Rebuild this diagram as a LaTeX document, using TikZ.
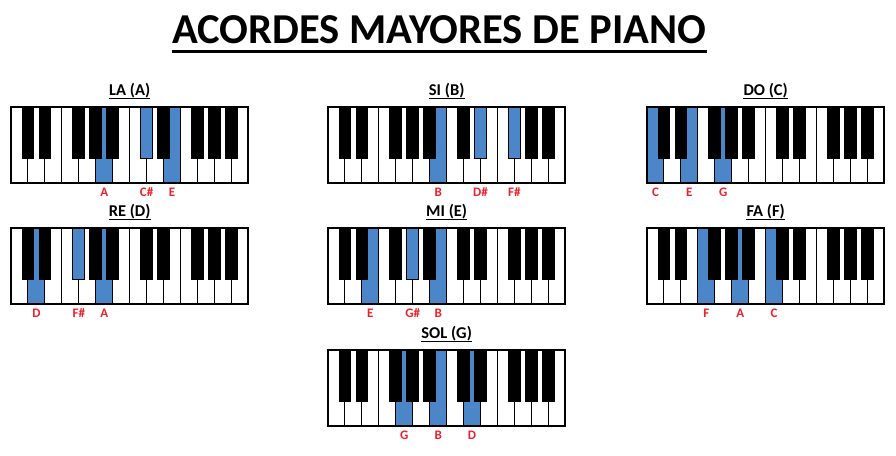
\documentclass[tikz,border=0pt]{standalone}
\usepackage{fontspec}
\setmainfont{Carlito}
\usepackage{xcolor}
\usetikzlibrary{calc}
\definecolor{keyblue}{RGB}{74,134,200}
\definecolor{notered}{RGB}{236,32,42}
\newcommand{\kW}{16.95}
\newcommand{\kH}{76}
\newcommand{\bW}{11.7}
\newcommand{\bH}{51}
% white keys, C to B, two octaves
\newcommand{\kwhite}[2]{%
  \foreach \i in {0,...,13}{%
    \draw[wkey] ({#1+\i*\kW},#2) rectangle ++(\kW,\kH);}}
% black keys (after C D F G A)
\newcommand{\kblack}[2]{%
  \foreach \i in {1,2,4,5,6,8,9,11,12,13}{%
    \draw[bkey] ({#1+\i*\kW-0.5*\bW},#2) rectangle ++(\bW,\bH);}}
% whole keyboard: x, y, name, title, white keys index/note
\newcommand{\kboard}[5]{%
  \kwhite{#1}{#2}
  \foreach \i/\n in {#5}{%
    \draw[hkey] ({#1+\i*\kW},#2) rectangle ++(\kW,\kH);
    \node[note] (#3-w\i) at ({#1+(\i+0.5)*\kW},{#2+\kH+9}) {\n};}
  \kblack{#1}{#2}
  \draw[kframe] (#1,#2) rectangle ++({14*\kW},\kH);
  \node[ctitle] (#3) at ({#1+7*\kW},{#2-11.3}) {#4};
  \draw[uline] ($(#3.base west)+(0,2.6)$) -- ($(#3.base east)+(0,2.6)$);}
% blue black key: x, y, name, boundary index, note
\newcommand{\kbl}[5]{%
  \draw[hkey] ({#1+#4*\kW-0.5*\bW},#2) rectangle ++(\bW,\bH);
  \node[note] (#3-b#4) at ({#1+#4*\kW},{#2+\kH+9}) {#5};}

\begin{document}
\begin{tikzpicture}[x=1pt,y=-1pt,
  wkey/.style={draw=black, fill=white, line width=1pt},
  hkey/.style={draw=black, fill=keyblue, line width=1pt},
  bkey/.style={draw=black, fill=black, line width=1pt},
  kframe/.style={draw=black, line width=1.8pt},
  note/.style={text=notered, font=\bfseries\fontsize{13}{14}\selectfont, inner sep=0pt},
  ctitle/.style={font=\bfseries\fontsize{16.5}{18}\selectfont, inner sep=0pt, anchor=base},
  uline/.style={line width=1.4pt}]
\useasboundingbox (0,0) rectangle (896,455);
% title
\node[font=\bfseries\fontsize{42.6}{46}\selectfont, inner sep=0pt, anchor=base] (title) at (439.5,43) {ACORDES MAYORES DE PIANO};
\draw[line width=3pt] ($(title.base west)+(0,8.5)$) -- ($(title.base east)+(0,8.5)$);
% first row
\kboard{11}{107}{la}{LA (A)}{5/A,9/E}
\kbl{11}{107}{la}{8}{C\#}
\kboard{328}{107}{si}{SI (B)}{6/B}
\kbl{328}{107}{si}{9}{D\#}
\kbl{328}{107}{si}{11}{F\#}
\kboard{647}{107}{do}{DO (C)}{0/C,2/E,4/G}
% second row
\kboard{11}{228}{re}{RE (D)}{1/D,5/A}
\kbl{11}{228}{re}{4}{F\#}
\kboard{328}{228}{mi}{MI (E)}{2/E,6/B}
\kbl{328}{228}{mi}{5}{G\#}
\kboard{647}{228}{fa}{FA (F)}{3/F,5/A,7/C}
% last row
\kboard{328}{350}{sol}{SOL (G)}{4/G,6/B,8/D}
\end{tikzpicture}
\end{document}
